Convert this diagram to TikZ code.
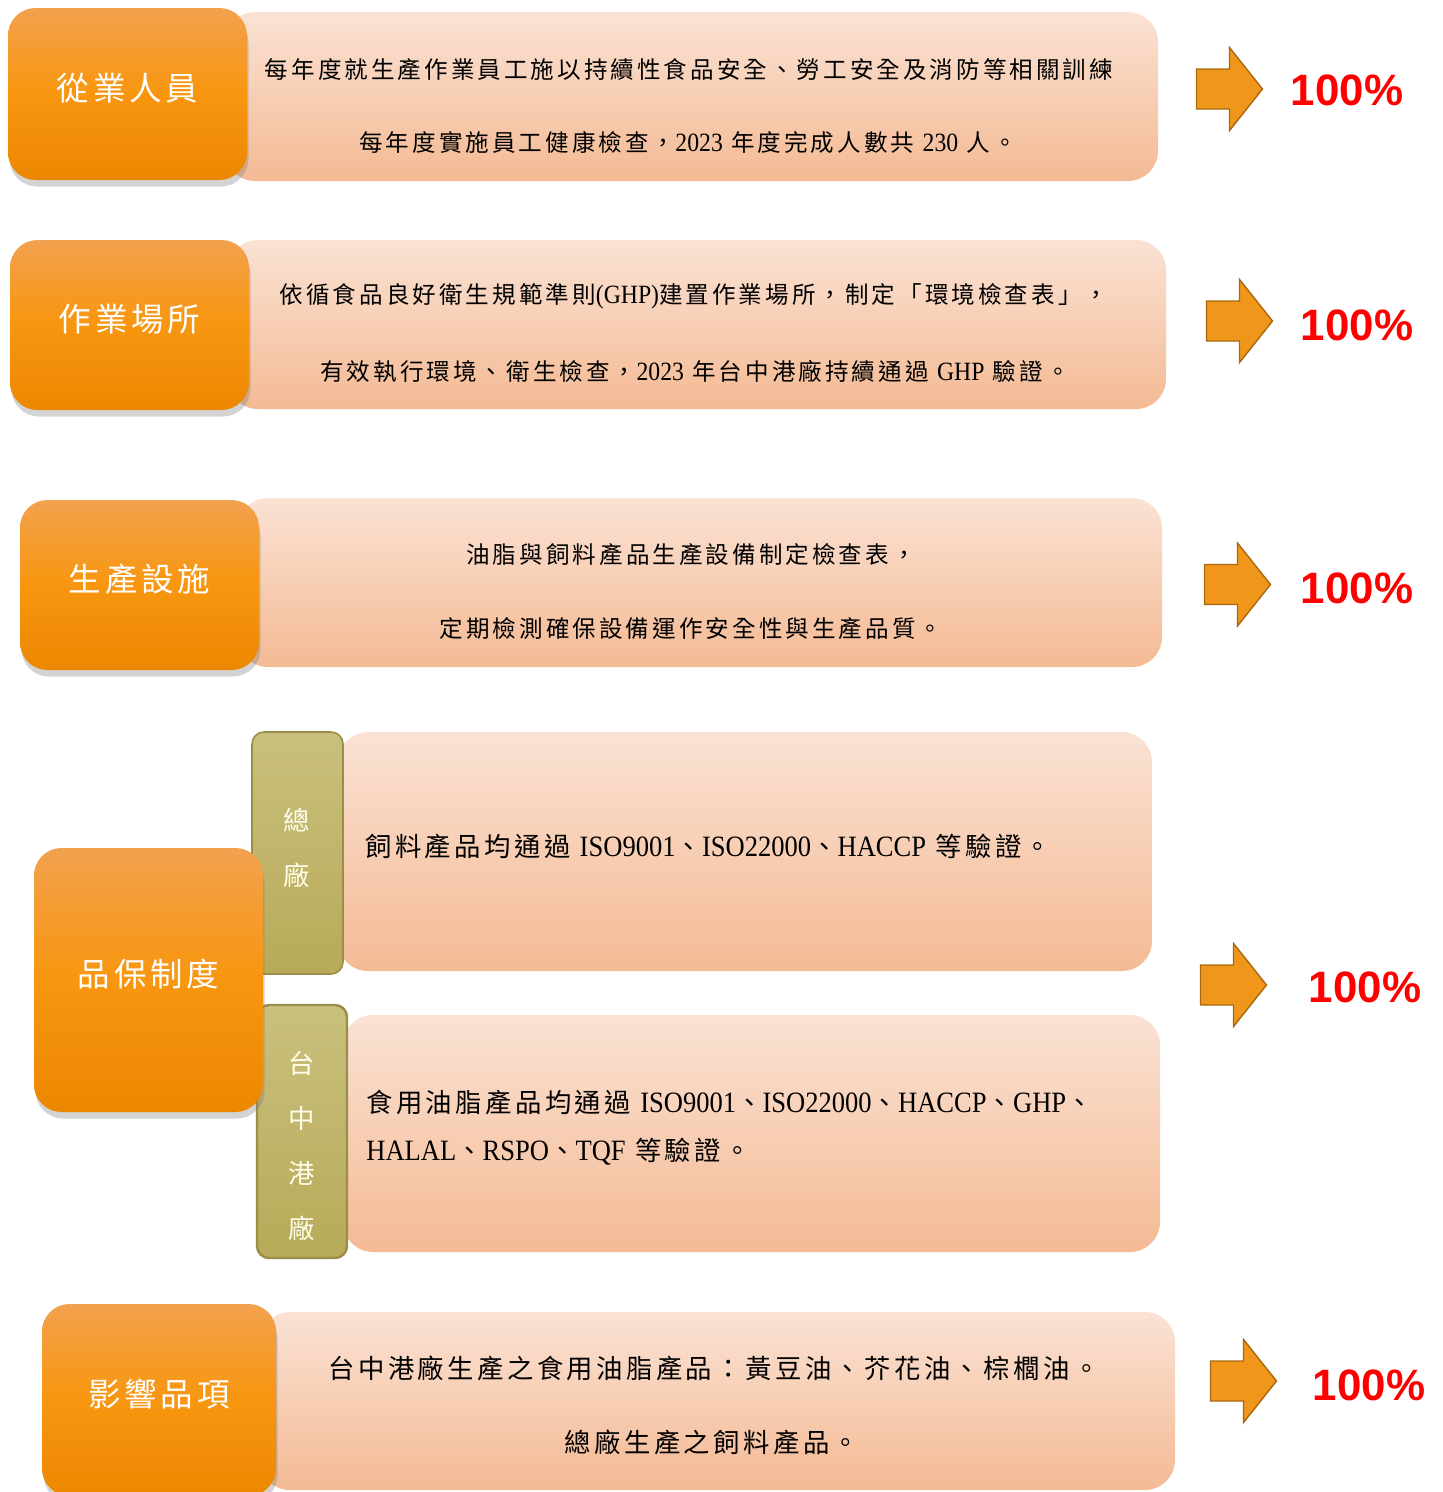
\documentclass[tikz,border=0pt]{standalone}
\usepackage{fontspec}
\setmainfont{Liberation Serif}
\newfontfamily\cjk{Noto Sans CJK TC}[LetterSpace=13]
\newfontfamily\cjkwide{Noto Sans CJK TC}[LetterSpace=12]
\newfontfamily\cjkplain{Noto Sans CJK TC}
\newfontfamily\latf{Liberation Serif}[FakeStretch=0.9,Scale=1.12]
\newfontfamily\pctfont{Liberation Sans}
\newcommand\lt[1]{{\latf #1}}
\usepackage{xcolor}
\usetikzlibrary{shadows}

\definecolor{ttop}{HTML}{F2A14E}
\definecolor{tmid}{HTML}{F8960F}
\definecolor{tbot}{HTML}{EC8700}
\definecolor{ptop}{HTML}{FAE2D4}
\definecolor{pbot}{HTML}{F4BA94}
\definecolor{otop}{HTML}{C9C07D}
\definecolor{obot}{HTML}{B7AA58}
\definecolor{oline}{HTML}{9A8E48}
\definecolor{afill}{HTML}{F0961A}
\definecolor{aline}{HTML}{A8680F}
\definecolor{pctred}{HTML}{FF0000}

\tikzset{sz/.style 2 args={minimum width=#1*0.02cm,minimum height=#2*0.02cm}}

\begin{document}
\begin{tikzpicture}[x=0.02cm,y=-0.02cm,
  title/.style={rounded corners=0.55cm, top color=ttop, bottom color=tbot, middle color=tmid,
    text=white, inner sep=0pt, text height=10pt, text depth=2.8pt,
    font=\cjkwide\fontsize{18.5}{20}\selectfont,
    drop shadow={opacity=0.35,shadow xshift=0.03cm,shadow yshift=-0.13cm}},
  panel/.style={rounded corners=0.6cm, top color=ptop, bottom color=pbot, inner sep=0pt},
  side/.style={rounded corners=0.24cm, top color=otop, bottom color=obot, draw=oline, line width=0.9pt, inner sep=0pt},
  sidetext/.style={text=white!92!yellow, align=center, inner sep=0pt, font=\cjkplain\fontsize{15}{31.3}\selectfont},
  line/.style={font=\cjk\fontsize{13.4}{16}\selectfont, inner sep=0pt},
  bigline/.style={font=\cjk\fontsize{15}{27.3}\selectfont, inner sep=0pt, anchor=west, align=left},
  goal/.style={fill=afill, draw=aline, line width=0.8pt},
  pct/.style={text=pctred, font=\pctfont\bfseries\fontsize{25}{30}\selectfont}]
\useasboundingbox (0,0) rectangle (1443,1492);

% row 1
\node[panel, sz={933}{169}] (p1) at (691.5,96.5) {};
\node[title, sz={239}{172}] (t1) at (127.5,94) {從業人員};
\node[line] (p1a) at (689,70) {每年度就生產作業員工施以持續性食品安全、勞工安全及消防等相關訓練};
\node[line] (p1b) at (688,143) {每年度實施員工健康檢查，\lt{2023} 年度完成人數共 \lt{230} 人。};

% row 2
\node[panel, sz={938}{169}] (p2) at (697,324.5) {};
\node[title, sz={239}{170}] (t2) at (129.5,325) {作業場所};
\node[line] (p2a) at (694,296) {依循食品良好衛生規範準則\lt{(GHP)}建置作業場所，制定「環境檢查表」，};
\node[line] (p2b) at (695,371) {有效執行環境、衛生檢查，\lt{2023} 年台中港廠持續通過 \lt{GHP} 驗證。};

% row 3
\node[panel, sz={924}{169}] (p3) at (700,582.5) {};
\node[title, sz={239}{170}] (t3) at (139.5,585) {生產設施};
\node[line] (p3a) at (691,555) {油脂與飼料產品生產設備制定檢查表，};
\node[line] (p3b) at (691,629) {定期檢測確保設備運作安全性與生產品質。};

% row 4
\node[panel, sz={814}{239}] (p4) at (745,851.5) {};
\node[panel, sz={817}{237}] (p5) at (751.5,1133.5) {};
\node[side, sz={91}{242}] (s1) at (297.5,853) {};
\node[side, sz={90}{253}, line width=1.4pt] (s2) at (302,1131.5) {};
\node[title, sz={229}{264}] (t4) at (148.5,980) {品保制度};
\node[sidetext] (s1t) at (297,847.5) {總\\廠};
\node[sidetext] (s2t) at (302,1145.5) {台\\中\\港\\廠};
\node[bigline] (p4a) at (365,846) {飼料產品均通過 \lt{ISO9001}、\lt{ISO22000}、\lt{HACCP} 等驗證。};
\node[bigline] (p5a) at (366,1128) {食用油脂產品均通過 \lt{ISO9001}、\lt{ISO22000}、\lt{HACCP}、\lt{GHP}、\\
  \lt{HALAL}、\lt{RSPO}、\lt{TQF} 等驗證。};

% row 5
\node[panel, sz={915}{178}] (p6) at (717.5,1401) {};
\node[title, sz={234}{192}] (t5) at (159,1400) {影響品項};
\node[line, font=\cjk\fontsize{15}{18}\selectfont] (p6a) at (714,1368) {台中港廠生產之食用油脂產品：黃豆油、芥花油、棕櫚油。};
\node[line, font=\cjk\fontsize{15}{18}\selectfont] (p6b) at (712,1442) {總廠生產之飼料產品。};

% arrows and results
\foreach \n/\ax/\ay/\vx/\vy in {1/1229.5/89/1347/90, 2/1239.5/321/1357/325,
    3/1237.5/584.5/1357/588, 4/1233.5/985/1365/987, 5/1243.5/1381/1369/1385}{
  \coordinate (a\n) at (\ax,\ay);
  \draw[goal, shift={(a\n)}] (-33,-20) -- (0,-20) -- (0,-41.5) -- (33,0) -- (0,41.5) -- (0,20) -- (-33,20) -- cycle;
  \node[pct] (v\n) at (\vx,\vy) {100\%};
}
\end{tikzpicture}
\end{document}
